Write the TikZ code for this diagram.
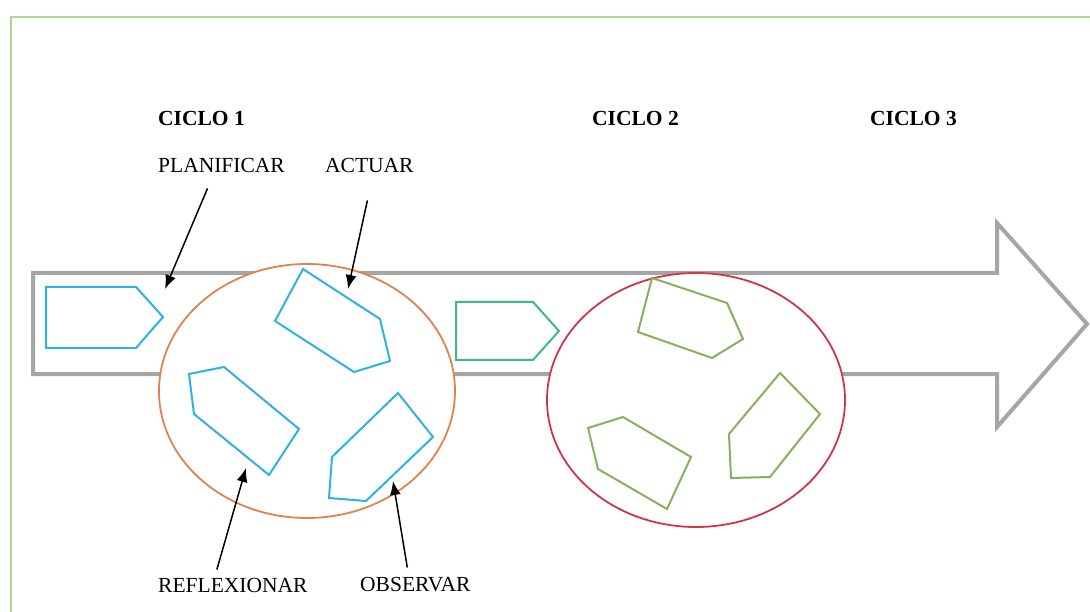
\documentclass[tikz,border=0pt]{standalone}
\usepackage{fontspec}
\setmainfont{Liberation Serif}
\usetikzlibrary{arrows.meta}
\definecolor{framegreen}{HTML}{B3D68E}
\definecolor{arrowgray}{HTML}{A6A6A6}
\definecolor{cycleorange}{HTML}{E0834F}
\definecolor{cyclered}{HTML}{D2344A}
\definecolor{stepblue}{HTML}{2DB3E2}
\definecolor{stepteal}{HTML}{3DBB86}
\definecolor{stepolive}{HTML}{86B25E}
\tikzset{
  label/.style={anchor=west, inner sep=0pt, font=\fontsize{21.5}{24}\selectfont},
  title/.style={label, font=\fontsize{21.5}{24}\selectfont\bfseries},
  pointer/.style={line width=1.5pt, -{Latex[length=14pt,width=11pt]}},
  cycle/.style={line width=1.8pt, fill=white},
  stepblue/.style={draw=stepblue, line width=2pt, line join=miter},
  stepteal/.style={draw=stepteal, line width=2pt, line join=miter},
  stepolive/.style={draw=stepolive, line width=2pt, line join=miter},
}
\begin{document}
\begin{tikzpicture}[x=1pt, y=-1pt]
\useasboundingbox (0,0) rectangle (1090,612);
\fill[white] (0,0) rectangle (1090,612);

% green frame, running off the right and bottom edges
\draw[framegreen, line width=2.2pt] (11,640) -- (11,17) -- (1120,17);

% big process arrow
\draw[arrowgray, line width=4pt, line join=miter, fill=white]
  (33,273) -- (997,273) -- (997,223) -- (1087,324) -- (997,427)
  -- (997,374) -- (33,374) -- cycle;

% cycle ellipses
\draw[cycle, draw=cycleorange] (307,391) ellipse [x radius=148, y radius=127];
\draw[cycle, draw=cyclered] (696,400) ellipse [x radius=149, y radius=127];

% cycle 1 steps
\draw[stepblue] (46,287) -- (136,287) -- (163,317) -- (136,348) -- (46,348) -- cycle;
\draw[stepblue] (303,269) -- (380,319) -- (390,361) -- (354,372) -- (275,321) -- cycle;
\draw[stepblue] (189,374) -- (224,367) -- (299,429) -- (269,475) -- (194,414) -- cycle;
\draw[stepblue] (398,393) -- (433,437) -- (366,501) -- (329,498) -- (332,457) -- cycle;

% cycle 2 steps
\draw[stepteal] (456,302) -- (533,302) -- (559,331) -- (533,360) -- (456,360) -- cycle;
\draw[stepolive] (652,278) -- (727,303) -- (743,339) -- (712,358) -- (638,332) -- cycle;
\draw[stepolive] (623,417) -- (691,457) -- (667,509) -- (598,469) -- (588,428) -- cycle;
\draw[stepolive] (780,373) -- (820,414) -- (770,477) -- (731,478) -- (729,434) -- cycle;

% titles and labels
\node[title] (c1) at (158,118) {CICLO 1};
\node[title] (c2) at (592,118) {CICLO 2};
\node[title] (c3) at (870,118) {CICLO 3};
\node[label] (plan) at (158,165) {PLANIFICAR};
\node[label] (act) at (325,165) {ACTUAR};
\node[label] (refl) at (158,585) {REFLEXIONAR};
\node[label] (obs) at (360,585) {OBSERVAR};

% arrow targets
\coordinate (planTip) at (165,289);
\coordinate (actTip) at (348,289);
\coordinate (reflTip) at (246,468);
\coordinate (obsTip) at (393,481);

\draw[pointer] ([xshift=-14pt, yshift=-16pt]plan.south) -- (planTip);
\draw[pointer] ([xshift=-2pt, yshift=-28pt]act.south) -- (actTip);
\draw[pointer] ([xshift=-16pt, yshift=8pt]refl.north) -- (reflTip);
\draw[pointer] ([xshift=-8pt, yshift=10pt]obs.north) -- (obsTip);
\end{tikzpicture}
\end{document}
